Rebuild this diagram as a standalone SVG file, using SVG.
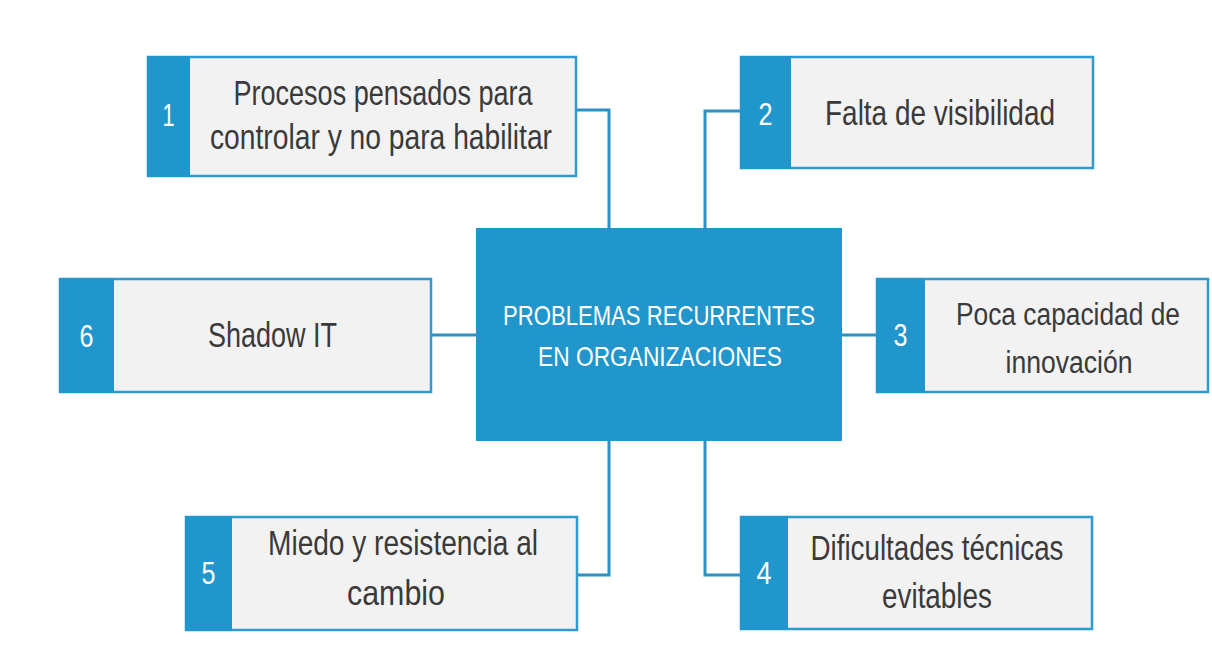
<svg xmlns="http://www.w3.org/2000/svg" width="1212" height="671" viewBox="0 0 1212 671">
<style>
.box{fill:#F2F2F2;stroke:#2E9AD0;stroke-width:2.5}
.tab{fill:#2196CC}
.t{font-family:"Liberation Sans",Arial,sans-serif;font-size:35px;fill:#3A3A3A;text-anchor:middle}
.t3{font-size:31px}
.n{font-family:"Liberation Sans",Arial,sans-serif;font-size:32px;fill:#FFFFFF;text-anchor:middle}
.c{font-family:"Liberation Sans",Arial,sans-serif;font-size:28px;fill:#FFFFFF;text-anchor:middle}
.conn{fill:none;stroke:#2A92C4;stroke-width:3}
</style>
<rect width="1212" height="671" fill="#FFFFFF"/>
<g id="connectors" class="conn">
<path d="M576,110 H609 V228"/>
<path d="M740,111 H705 V228"/>
<path d="M431,335 H476"/>
<path d="M842,335 H876"/>
<path d="M577,575 H609 V441"/>
<path d="M705,441 V575 H740"/>
</g>
<g id="center">
<rect x="476" y="228" width="366" height="213" fill="#2196CC"/>
<text class="c" x="659" y="325" textLength="312" lengthAdjust="spacingAndGlyphs">PROBLEMAS RECURRENTES</text>
<text class="c" x="660" y="366" textLength="244" lengthAdjust="spacingAndGlyphs">EN ORGANIZACIONES</text>
</g>
<g id="node1">
<rect class="box" x="148" y="57" width="428" height="119"/>
<rect class="tab" x="147" y="56" width="43" height="121"/>
<text class="n" x="168.5" y="126" textLength="12" lengthAdjust="spacingAndGlyphs">1</text>
<text class="t" x="383" y="105" textLength="299" lengthAdjust="spacingAndGlyphs">Procesos pensados para</text>
<text class="t" x="381" y="149" textLength="342" lengthAdjust="spacingAndGlyphs">controlar y no para habilitar</text>
</g>
<g id="node2">
<rect class="box" x="741" y="57" width="352" height="111"/>
<rect class="tab" x="740" y="56" width="51" height="113"/>
<text class="n" x="765.5" y="125" textLength="14" lengthAdjust="spacingAndGlyphs">2</text>
<text class="t" x="940" y="125" textLength="230" lengthAdjust="spacingAndGlyphs">Falta de visibilidad</text>
</g>
<g id="node3">
<rect class="box" x="877" y="279" width="331" height="113"/>
<rect class="tab" x="876" y="278" width="49" height="115"/>
<text class="n" x="900.5" y="346" textLength="14" lengthAdjust="spacingAndGlyphs">3</text>
<text class="t t3" x="1068" y="325" textLength="224" lengthAdjust="spacingAndGlyphs">Poca capacidad de</text>
<text class="t t3" x="1069" y="373" textLength="127" lengthAdjust="spacingAndGlyphs">innovación</text>
</g>
<g id="node4">
<rect class="box" x="741" y="517" width="351" height="112"/>
<rect class="tab" x="740" y="516" width="48" height="114"/>
<text class="n" x="764" y="584" textLength="15" lengthAdjust="spacingAndGlyphs">4</text>
<text class="t" x="937" y="560" textLength="253" lengthAdjust="spacingAndGlyphs">Dificultades técnicas</text>
<text class="t" x="937" y="608" textLength="110" lengthAdjust="spacingAndGlyphs">evitables</text>
</g>
<g id="node5">
<rect class="box" x="186" y="517" width="391" height="113"/>
<rect class="tab" x="185" y="516" width="47" height="115"/>
<text class="n" x="208.5" y="584" textLength="14" lengthAdjust="spacingAndGlyphs">5</text>
<text class="t" x="403" y="555" textLength="270" lengthAdjust="spacingAndGlyphs">Miedo y resistencia al</text>
<text class="t" x="396" y="605" textLength="98" lengthAdjust="spacingAndGlyphs">cambio</text>
</g>
<g id="node6">
<rect class="box" x="60" y="279" width="371" height="113"/>
<rect class="tab" x="59" y="278" width="55" height="115"/>
<text class="n" x="86.5" y="347" textLength="14" lengthAdjust="spacingAndGlyphs">6</text>
<text class="t" x="272.5" y="347" textLength="129" lengthAdjust="spacingAndGlyphs">Shadow IT</text>
</g>
</svg>
